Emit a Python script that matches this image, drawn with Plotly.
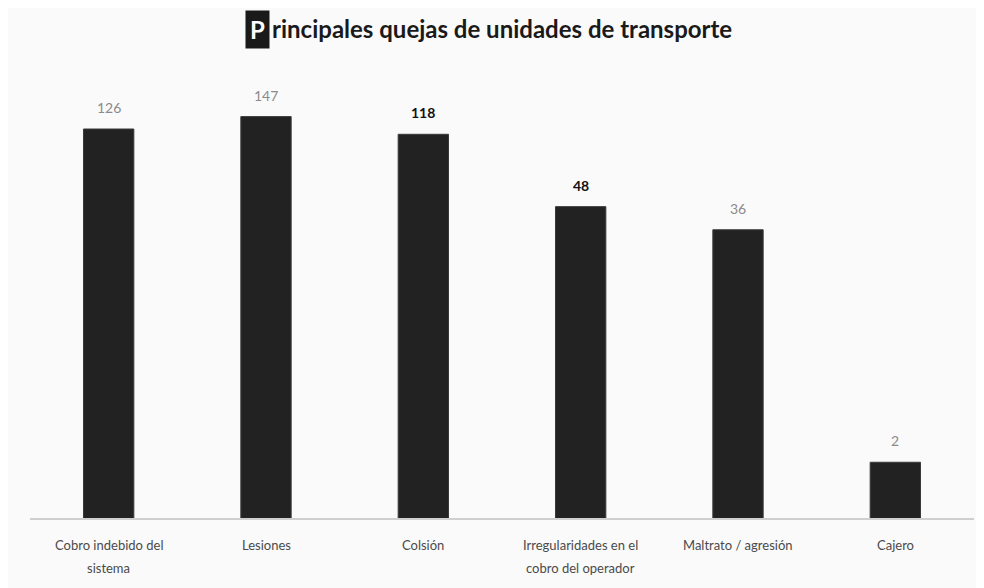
import math
import plotly.graph_objects as go

categories = ["Cobro indebido del<br>sistema", "Lesiones", "Colsión",
              "Irregularidades en el<br>cobro del operador", "Maltrato / agresión", "Cajero"]
values = [126, 147, 118, 48, 36, 2]
label_bold = [False, False, True, True, False, False]

fig = go.Figure()
fig.add_trace(go.Bar(
    x=categories, y=values,
    marker=dict(color="#222222", line=dict(color="#3a3a3a", width=1)),
    hoverinfo="x+y",
))

for c, v, b in zip(categories, values, label_bold):
    fig.add_annotation(
        x=c, y=math.log10(v), xref="x", yref="y",
        text=f"<b>{v}</b>" if b else str(v),
        showarrow=False, yanchor="bottom", yshift=11,
        font=dict(family="Lato", size=14, color="#111111" if b else "#8a8a8a"),
    )
    # category label, one annotation per line for the wider line spacing
    for i, line in enumerate(c.split("<br>")):
        fig.add_annotation(
            x=c, y=0, xref="x", yref="paper",
            text=line, showarrow=False, yanchor="middle", yshift=-27 - 23 * i,
            font=dict(family="Lato", size=13, color="#4a4a4a"),
        )

# title, with the first letter boxed
fig.add_annotation(
    x=(262 - 22) / 944, y=1, xref="paper", yref="paper", yshift=11,
    text="<b>P</b>", showarrow=False, xanchor="right", yanchor="bottom",
    bgcolor="#1a1a1a", borderpad=4,
    font=dict(family="Lato", size=24, color="white"),
)
fig.add_annotation(
    x=(262 - 22) / 944, y=1, xref="paper", yref="paper", yshift=15,
    text="<b>rincipales quejas de unidades de transporte</b>", showarrow=False,
    xanchor="left", yanchor="bottom",
    font=dict(family="Lato", size=24, color="#1a1a1a"),
)

fig.update_layout(
    width=984, height=588,
    margin=dict(l=22, r=18, t=52, b=78),
    paper_bgcolor="#fafafa", plot_bgcolor="#fafafa",
    bargap=0.68, showlegend=False,
    font=dict(family="Lato", size=13, color="#4a4a4a"),
)
fig.update_xaxes(showline=True, linecolor="#cfcfcf", linewidth=2, ticks="",
                 showticklabels=False, showgrid=False)
fig.update_yaxes(type="log", range=[0, (510 - 52) / 185.2], visible=False, showgrid=False)

fig.write_html("out.html")
